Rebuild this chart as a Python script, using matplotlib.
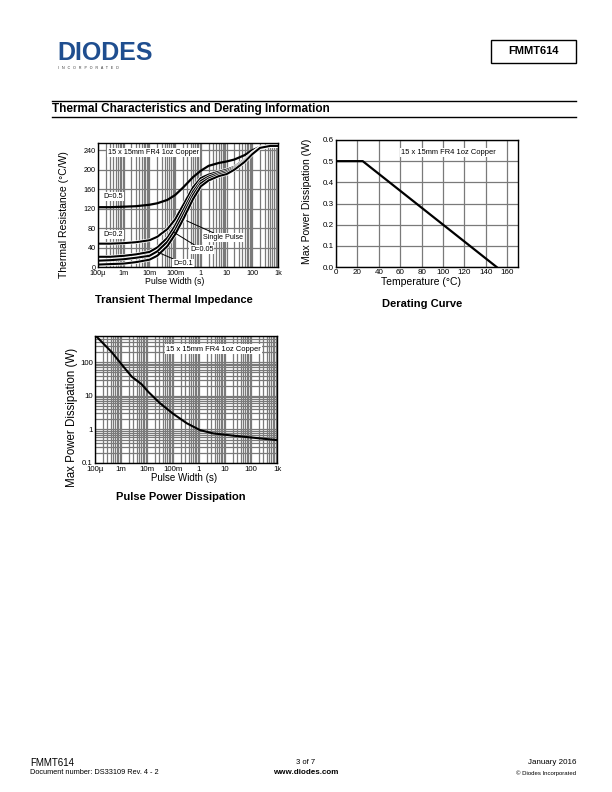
import matplotlib
matplotlib.use('Agg')
import matplotlib.pyplot as plt
from matplotlib.ticker import LogLocator, NullFormatter
from matplotlib.patches import Rectangle
from matplotlib.lines import Line2D

plt.rcParams['font.family'] = ['Liberation Sans', 'DejaVu Sans']

W, H = 612, 792

# ---------------- data ----------------
# transient thermal impedance (degC/W) vs pulse width (s)
pulse_t = [1e-4, 3e-4, 1e-3, 3e-3, 1e-2, 2e-2, 5e-2, 0.1, 0.2, 0.5,
           1, 2, 5, 10, 20, 50, 100, 200, 500, 1000]
rth_d05 = [123, 123, 124, 125, 128, 131, 138, 148, 163, 185,
           198, 208, 214, 217, 221, 230, 240, 247, 249, 249]
rth_d02 = [48, 48, 49, 51, 55, 62, 78, 98, 126, 164,
           183, 190, 196, 200, 206, 221, 235, 246, 249, 249]
rth_d01 = [21, 21, 23, 26, 31, 40, 60, 85, 115, 155,
           177, 186, 193, 197, 204, 219, 234, 246, 249, 249]
rth_d005 = [13, 14, 16, 19, 23, 32, 52, 76, 106, 148,
            172, 182, 190, 194, 202, 218, 233, 245, 249, 249]
rth_single = [5, 6, 7, 10, 15, 23, 43, 67, 97, 140,
              166, 178, 187, 191, 200, 216, 232, 245, 249, 249]

# derating curve
temp = [0, 25, 150]
pmax = [0.5, 0.5, 0.0]

# pulse power dissipation
pp_t = [1.09e-4, 4.4e-4, 1.23e-3, 2.6e-3, 6.2e-3, 0.0113, 0.0316, 0.102,
        0.34, 1.1, 3.5, 21, 220, 1000]
pp_w = [600, 199, 74, 37, 22, 13, 6.0, 2.9, 1.52, 0.95, 0.76, 0.65, 0.54, 0.48]

t_ticks = [1e-4, 1e-3, 1e-2, 1e-1, 1, 10, 100, 1000]
t_labels = ['100\u00b5', '1m', '10m', '100m', '1', '10', '100', '1k']

GRID = '#7a7a7a'


def rect(x0, y0, x1, y1):
    return [x0 / W, 1 - y1 / H, (x1 - x0) / W, (y1 - y0) / H]


def ftext(x, y, s, **kw):
    fig.text(x / W, 1 - y / H, s, **kw)


def style(ax, fs):
    for sp in ax.spines.values():
        sp.set_linewidth(1.0)
        sp.set_color('black')
    ax.tick_params(which='both', length=0, pad=1.5, labelsize=fs)
    ax.set_axisbelow(True)


fig = plt.figure(figsize=(W / 100, H / 100), dpi=100)

# ---------------- header ----------------
ftext(57, 53, 'DIODES', fontsize=18, fontweight='bold', color='#1f4e8f',
      ha='left', va='center')
ftext(58, 68, 'I   N   C   O   R   P   O   R   A   T   E   D', fontsize=2.6,
      color='#333333', ha='left', va='center')
fig.add_artist(Rectangle((491 / W, 1 - 63 / H), 85 / W, 23 / H,
                         transform=fig.transFigure, fill=False, lw=1.0, ec='black'))
ftext(533.5, 51.5, 'FMMT614', fontsize=8, fontweight='bold', ha='center', va='center')

fig.add_artist(Line2D([52 / W, 576 / W], [1 - 101 / H] * 2, color='black', lw=1.0))
fig.add_artist(Line2D([52 / W, 576 / W], [1 - 117 / H] * 2, color='black', lw=1.0))
ftext(52, 109, 'Thermal Characteristics and Derating Information', fontsize=8.5,
      fontweight='bold', ha='left', va='center')

# ---------------- transient thermal impedance ----------------
ax1 = fig.add_axes(rect(98, 143, 278, 267))
ax1.set_xscale('log')
ax1.plot(pulse_t, rth_d05, color='black', lw=1.6)
for y in [rth_d02, rth_d01, rth_d005, rth_single]:
    ax1.plot(pulse_t, y, color='white', lw=2.5, solid_capstyle='butt')
    ax1.plot(pulse_t, y, color='black', lw=1.5)
ax1.set_xlim(1e-4, 1e3)
ax1.set_ylim(0, 255)
ax1.set_xticks(t_ticks)
ax1.set_xticklabels(t_labels)
ax1.xaxis.set_minor_locator(LogLocator(base=10, subs=range(2, 10), numticks=20))
ax1.xaxis.set_minor_formatter(NullFormatter())
ax1.set_yticks([0, 40, 80, 120, 160, 200, 240])
ax1.grid(True, which='both', axis='x', color=GRID, lw=0.9)
ax1.grid(True, which='major', axis='y', color=GRID, lw=0.9)
style(ax1, 5.2)
ax1.tick_params(axis='x', pad=2.2)

wbox = dict(facecolor='white', edgecolor='none', pad=0.6)
ax1.text(2.45e-4, 235, '15 x 15mm FR4 1oz Copper', fontsize=5.2, va='center', bbox=wbox)
ax1.text(1.6e-4, 145, 'D=0.5', fontsize=5.2, va='center', bbox=wbox)
ax1.text(1.6e-4, 67, 'D=0.2', fontsize=5.2, va='center', bbox=wbox)
ax1.annotate('Single Pulse', xy=(0.28, 95), xytext=(1.25, 61), fontsize=5.2, va='center',
             bbox=wbox, arrowprops=dict(arrowstyle='-', color='black', lw=0.7, shrinkA=0, shrinkB=0))
ax1.annotate('D=0.05', xy=(0.085, 72), xytext=(0.38, 36), fontsize=5.2, va='center',
             bbox=wbox, arrowprops=dict(arrowstyle='-', color='black', lw=0.7, shrinkA=0, shrinkB=0))
ax1.annotate('D=0.1', xy=(0.022, 30), xytext=(0.083, 8), fontsize=5.2, va='center',
             bbox=wbox, arrowprops=dict(arrowstyle='-', color='black', lw=0.7, shrinkA=0, shrinkB=0))

ftext(175, 282, 'Pulse Width (s)', fontsize=6.3, ha='center', va='center')
ftext(64, 215, 'Thermal Resistance (\u00b0C/W)', fontsize=7.5, ha='center', va='center',
      rotation=90)
ftext(174, 300, 'Transient Thermal Impedance', fontsize=8, fontweight='bold',
      ha='center', va='center')

# ---------------- derating curve ----------------
ax2 = fig.add_axes(rect(336, 140, 518, 267))
ax2.plot(temp, pmax, color='black', lw=1.6)
ax2.set_xlim(0, 170)
ax2.set_ylim(0, 0.6)
ax2.set_xticks(range(0, 161, 20))
ax2.set_yticks([0, 0.1, 0.2, 0.3, 0.4, 0.5, 0.6])
ax2.set_yticklabels(['0.0', '0.1', '0.2', '0.3', '0.4', '0.5', '0.6'])
ax2.grid(True, color=GRID, lw=0.9)
style(ax2, 5.8)
ax2.text(61, 0.54, '15 x 15mm FR4 1oz Copper', fontsize=5.4, va='center', bbox=wbox)

ftext(421, 282, 'Temperature (\u00b0C)', fontsize=7.5, ha='center', va='center')
ftext(307, 201, 'Max Power Dissipation (W)', fontsize=7.5, ha='center', va='center',
      rotation=90)
ftext(422, 304, 'Derating Curve', fontsize=8, fontweight='bold', ha='center', va='center')

# ---------------- pulse power dissipation ----------------
ax3 = fig.add_axes(rect(95, 336, 277, 463))
ax3.loglog(pp_t, pp_w, color='black', lw=1.5)
ax3.set_xlim(1e-4, 1e3)
ax3.set_ylim(0.1, 600)
ax3.set_xticks(t_ticks)
ax3.set_xticklabels(t_labels)
ax3.set_yticks([0.1, 1, 10, 100])
ax3.set_yticklabels(['0.1', '1', '10', '100'])
for axis in (ax3.xaxis, ax3.yaxis):
    axis.set_minor_locator(LogLocator(base=10, subs=range(2, 10), numticks=20))
    axis.set_minor_formatter(NullFormatter())
ax3.grid(True, which='both', color=GRID, lw=0.9)
style(ax3, 5.6)
ax3.tick_params(axis='x', pad=2.2)
ax3.text(0.054, 245, '15 x 15mm FR4 1oz Copper', fontsize=5.4, va='center',
         bbox=dict(facecolor='white', edgecolor='none', pad=0.8))

ftext(184, 478, 'Pulse Width (s)', fontsize=7, ha='center', va='center')
ftext(72, 417, 'Max Power Dissipation (W)', fontsize=8.3, ha='center', va='center',
      rotation=90)
ftext(181, 497, 'Pulse Power Dissipation', fontsize=8, fontweight='bold',
      ha='center', va='center')

# ---------------- footer ----------------
ftext(30, 763, 'FMMT614', fontsize=7, ha='left', va='center')
ftext(30, 773, 'Document number: DS33109 Rev. 4 - 2', fontsize=5.3, ha='left', va='center')
ftext(306, 763, '3 of 7', fontsize=5.5, ha='center', va='center')
ftext(306, 773, 'www.diodes.com', fontsize=5.8, fontweight='bold', ha='center', va='center')
ftext(576, 763, 'January 2016', fontsize=5.8, ha='right', va='center')
ftext(576, 773, '\u00a9 Diodes Incorporated', fontsize=4.3, ha='right', va='center')

fig.savefig('out.png', dpi=100)
